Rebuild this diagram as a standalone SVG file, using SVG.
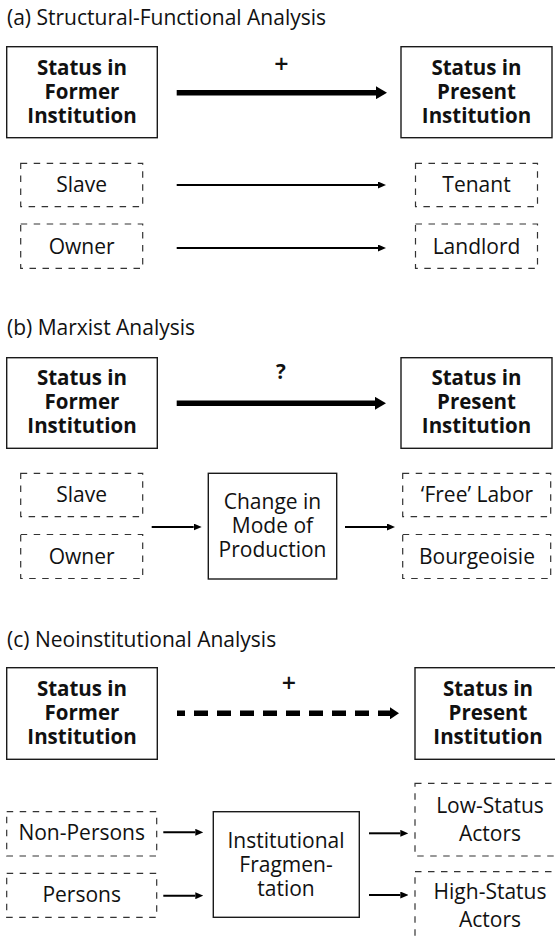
<svg xmlns="http://www.w3.org/2000/svg" width="555" height="942" viewBox="0 0 555 942">
<style>
text{font-family:"Open Sans","Liberation Sans",sans-serif;fill:#111}
.title{font-size:21px}
.b{font-size:20.5px;font-weight:bold;text-anchor:middle}
.r{font-size:21px;text-anchor:middle}
.plus{font-size:25px;font-weight:600;text-anchor:middle}
.box{fill:#fff;stroke:#1a1a1a;stroke-width:1.4}
.dbox{fill:none;stroke:#333;stroke-width:1.2;stroke-dasharray:6.5 6.5}
.thick{stroke:#000;stroke-width:5.5;fill:none}
.thin{stroke:#000;stroke-width:2;fill:none}
</style>
<defs>
<marker id="big" markerUnits="userSpaceOnUse" markerWidth="11" markerHeight="13" refX="0" refY="6.5" orient="auto"><path d="M0,0 L11,6.5 L0,13 z" fill="#000"/></marker>
<marker id="bigc" markerUnits="userSpaceOnUse" markerWidth="9" markerHeight="12" refX="0" refY="6" orient="auto"><path d="M0,0 L9,6 L0,12 z" fill="#000"/></marker>
<marker id="sm" markerUnits="userSpaceOnUse" markerWidth="8" markerHeight="7" refX="0" refY="3.5" orient="auto"><path d="M0,0 L8,3.5 L0,7 z" fill="#000"/></marker>
</defs>

<!-- titles -->
<text class="title" x="7" y="25">(a) Structural-Functional Analysis</text>
<text class="title" x="7" y="335">(b) Marxist Analysis</text>
<text class="title" x="7" y="647">(c) Neoinstitutional Analysis</text>

<!-- (a) -->
<g id="a-former"><rect class="box" x="6.7" y="46.7" width="150.6" height="91"/>
<text class="b" x="82" y="75">Status in</text><text class="b" x="82" y="99">Former</text><text class="b" x="82" y="123">Institution</text></g>
<g id="a-present"><rect class="box" x="401" y="46.7" width="151" height="91"/>
<text class="b" x="476.5" y="75">Status in</text><text class="b" x="476.5" y="99">Present</text><text class="b" x="476.5" y="123">Institution</text></g>
<g id="a-slave"><rect class="dbox" x="20.7" y="163.3" width="122" height="43.4"/><text class="r" x="81.7" y="192">Slave</text></g>
<g id="a-owner"><rect class="dbox" x="20.7" y="224" width="122" height="44.3"/><text class="r" x="81.7" y="253.5">Owner</text></g>
<g id="a-tenant"><rect class="dbox" x="415.5" y="163.3" width="122" height="43.4"/><text class="r" x="476.5" y="192">Tenant</text></g>
<g id="a-landlord"><rect class="dbox" x="415.5" y="224" width="122" height="44.3"/><text class="r" x="476.5" y="253.5">Landlord</text></g>

<!-- (b) -->
<g id="b-former"><rect class="box" x="6.7" y="357.7" width="150.6" height="90.6"/>
<text class="b" x="82" y="385">Status in</text><text class="b" x="82" y="409">Former</text><text class="b" x="82" y="433">Institution</text></g>
<g id="b-present"><rect class="box" x="401" y="357.7" width="151" height="90.6"/>
<text class="b" x="476.5" y="385">Status in</text><text class="b" x="476.5" y="409">Present</text><text class="b" x="476.5" y="433">Institution</text></g>
<g id="b-slave"><rect class="dbox" x="20.7" y="473.3" width="122" height="43.4"/><text class="r" x="81.7" y="502">Slave</text></g>
<g id="b-owner"><rect class="dbox" x="20.7" y="534.5" width="122" height="44"/><text class="r" x="81.7" y="563.5">Owner</text></g>
<g id="b-change"><rect class="box" x="208.3" y="473.3" width="128.4" height="105.7"/>
<text class="r" x="272.5" y="509">Change in</text><text class="r" x="272.5" y="533">Mode of</text><text class="r" x="272.5" y="557">Production</text></g>
<g id="b-free"><rect class="dbox" x="402.7" y="473.3" width="148" height="43.4"/><text class="r" x="477" y="502">‘Free’ Labor</text></g>
<g id="b-bourg"><rect class="dbox" x="402.7" y="534.5" width="148" height="44"/><text class="r" x="477" y="563.5">Bourgeoisie</text></g>

<!-- (c) -->
<g id="c-former"><rect class="box" x="6.7" y="667.7" width="150.6" height="91.6"/>
<text class="b" x="82" y="696">Status in</text><text class="b" x="82" y="720">Former</text><text class="b" x="82" y="744">Institution</text></g>
<g id="c-present"><rect class="box" x="415" y="667.7" width="146" height="91.6"/>
<text class="b" x="488" y="696">Status in</text><text class="b" x="488" y="720">Present</text><text class="b" x="488" y="744">Institution</text></g>
<g id="c-nonpersons"><rect class="dbox" x="6.7" y="811.7" width="150" height="44.3"/><text class="r" x="81.7" y="840">Non-Persons</text></g>
<g id="c-persons"><rect class="dbox" x="6.7" y="873.3" width="150" height="44"/><text class="r" x="81.7" y="902">Persons</text></g>
<g id="c-frag"><rect class="box" x="213.3" y="811.7" width="146" height="105.6"/>
<text class="r" x="286" y="848">Institutional</text><text class="r" x="286" y="872">Fragmen-</text><text class="r" x="286" y="896">tation</text></g>
<g id="c-low"><rect class="dbox" x="415" y="783.3" width="150" height="72.7"/><text class="r" x="490" y="813">Low-Status</text><text class="r" x="490" y="841">Actors</text></g>
<g id="c-high"><rect class="dbox" x="415" y="871.7" width="150" height="90"/><text class="r" x="490" y="898.5">High-Status</text><text class="r" x="490" y="927">Actors</text></g>

<!-- connectors -->
<g id="connectors">
<line class="thick" x1="176.7" y1="92.7" x2="376" y2="92.7" marker-end="url(#big)"/>
<text class="plus" x="281.5" y="73">+</text>
<line class="thin" x1="176.7" y1="185" x2="378" y2="185" marker-end="url(#sm)"/>
<line class="thin" x1="176.7" y1="248" x2="378" y2="248" marker-end="url(#sm)"/>

<line class="thick" x1="176.7" y1="403.3" x2="375" y2="403.3" marker-end="url(#big)"/>
<text class="b" x="281" y="379">?</text>
<line class="thin" x1="151.7" y1="527" x2="193.7" y2="527" marker-end="url(#sm)"/>
<line class="thin" x1="345" y1="527" x2="387" y2="527" marker-end="url(#sm)"/>

<line class="thick" x1="177" y1="713.3" x2="390" y2="713.3" stroke-dasharray="14 9" stroke-dashoffset="6" marker-end="url(#bigc)"/>
<text class="plus" x="289" y="692">+</text>
<line class="thin" x1="163.3" y1="832.3" x2="195.3" y2="832.3" marker-end="url(#sm)"/>
<line class="thin" x1="163.3" y1="895.7" x2="195.3" y2="895.7" marker-end="url(#sm)"/>
<line class="thin" x1="369" y1="833.3" x2="400.3" y2="833.3" marker-end="url(#sm)"/>
<line class="thin" x1="369" y1="895" x2="400.3" y2="895" marker-end="url(#sm)"/>
</g>
</svg>
